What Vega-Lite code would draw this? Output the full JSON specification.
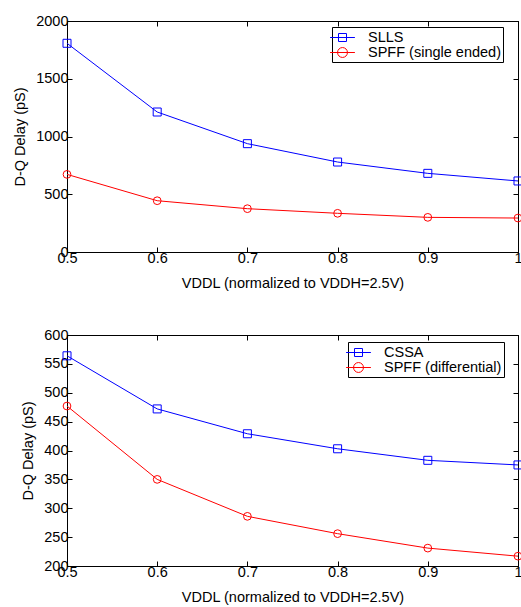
{
  "$schema": "https://vega.github.io/schema/vega-lite/v6.json",
  "background": "white",
  "padding": {"left": 12, "top": 12, "right": 0, "bottom": 0},
  "spacing": 35,
  "config": {
    "font": "Liberation Sans",
    "view": {"stroke": "black", "strokeWidth": 1},
    "axis": {
      "labelFont": "Liberation Sans", "labelFontSize": 14.5, "labelColor": "black",
      "titleFont": "Liberation Sans", "titleFontSize": 14.5, "titleFontWeight": "normal", "titleColor": "black",
      "domainColor": "black", "tickColor": "black", "tickSize": -5, "grid": false, "labelPadding": 4,
      "labelFlush": false, "labelOverlap": false
    },
    "legend": {
      "title": null, "orient": "none", "padding": 2,
      "strokeColor": "black", "fillColor": "white",
      "symbolSize": 256, "symbolStrokeWidth": 1, "symbolOffset": 0, "symbolOpacity": 1, "symbolFillColor": "transparent",
      "labelFont": "Liberation Sans", "labelFontSize": 14.5, "labelColor": "black",
      "labelOffset": 17, "rowPadding": 0,
      "labelExpr": "datum.label + '\u00a0\u00a0\u00a0'"
    }
  },
  "resolve": {"scale": {"color": "independent", "shape": "independent"}, "legend": {"color": "independent", "shape": "independent"}},
  "vconcat": [
    {
      "width": 451, "height": 231,
      "data": {"values": [
        {"vddl": 0.5, "delay": 1807, "series": "SLLS"},
        {"vddl": 0.6, "delay": 1212, "series": "SLLS"},
        {"vddl": 0.7, "delay": 938, "series": "SLLS"},
        {"vddl": 0.8, "delay": 779, "series": "SLLS"},
        {"vddl": 0.9, "delay": 681, "series": "SLLS"},
        {"vddl": 1.0, "delay": 615, "series": "SLLS"},
        {"vddl": 0.5, "delay": 672, "series": "SPFF (single ended)"},
        {"vddl": 0.6, "delay": 444, "series": "SPFF (single ended)"},
        {"vddl": 0.7, "delay": 375, "series": "SPFF (single ended)"},
        {"vddl": 0.8, "delay": 335, "series": "SPFF (single ended)"},
        {"vddl": 0.9, "delay": 300, "series": "SPFF (single ended)"},
        {"vddl": 1.0, "delay": 294, "series": "SPFF (single ended)"}
      ]},
      "resolve": {"axis": {"x": "independent", "y": "independent"}},
      "layer": [
        {
          "transform": [{"filter": "datum.series === 'SLLS'"}],
          "mark": {"type": "line", "strokeWidth": 1, "color": "#0000ff"},
          "encoding": {
            "x": {"field": "vddl", "type": "quantitative", "scale": {"domain": [0.5, 1], "nice": false, "zero": false},
                  "axis": {"values": [0.5, 0.6, 0.7, 0.8, 0.9, 1], "format": "~g", "title": "VDDL (normalized to VDDH=2.5V)", "titlePadding": 12}},
            "y": {"field": "delay", "type": "quantitative", "scale": {"domain": [0, 2000], "nice": false},
                  "axis": {"values": [0, 500, 1000, 1500, 2000], "format": "d", "title": "D-Q Delay (pS)", "titlePadding": 8}}
          }
        },
        {
          "transform": [{"filter": "datum.series === 'SLLS'"}],
          "mark": {"type": "point", "shape": "square", "filled": false, "strokeWidth": 1, "size": 64, "opacity": 1, "color": "#0000ff"},
          "encoding": {
            "x": {"field": "vddl", "type": "quantitative", "axis": {"orient": "top", "values": [0.5, 0.6, 0.7, 0.8, 0.9, 1], "labels": false, "title": null}},
            "y": {"field": "delay", "type": "quantitative", "axis": {"orient": "right", "values": [0, 500, 1000, 1500, 2000], "labels": false, "title": null}}
          }
        },
        {
          "transform": [{"filter": "datum.series !== 'SLLS'"}],
          "mark": {"type": "line", "strokeWidth": 1, "color": "#ff0000"},
          "encoding": {
            "x": {"field": "vddl", "type": "quantitative", "axis": null},
            "y": {"field": "delay", "type": "quantitative", "axis": null}
          }
        },
        {
          "transform": [{"filter": "datum.series !== 'SLLS'"}],
          "mark": {"type": "point", "shape": "circle", "filled": false, "strokeWidth": 1, "size": 60, "opacity": 1, "color": "#ff0000"},
          "encoding": {
            "x": {"field": "vddl", "type": "quantitative", "axis": null},
            "y": {"field": "delay", "type": "quantitative", "axis": null}
          }
        },
        {
          "mark": {"type": "point", "filled": false, "strokeWidth": 1, "opacity": 0},
          "encoding": {
            "x": {"field": "vddl", "type": "quantitative", "axis": null},
            "y": {"field": "delay", "type": "quantitative", "axis": null},
            "color": {"field": "series", "type": "nominal", "scale": {"domain": ["SLLS", "SPFF (single ended)"], "range": ["#0000ff", "#ff0000"]},
                      "legend": {"legendX": 265, "legendY": 6}},
            "shape": {"field": "series", "type": "nominal", "scale": {"domain": ["SLLS", "SPFF (single ended)"], "range": ["M-1.55,0H1.55M-0.5,-0.5H0.5V0.5H-0.5Z", "M-1.55,0H1.55M0.62,0A0.62,0.62,0,1,1,-0.62,0A0.62,0.62,0,1,1,0.62,0Z"]},
                      "legend": {"legendX": 265, "legendY": 6}}
          }
        }
      ]
    },
    {
      "width": 451, "height": 231,
      "data": {"values": [
        {"vddl": 0.5, "delay": 564, "series": "CSSA"},
        {"vddl": 0.6, "delay": 472, "series": "CSSA"},
        {"vddl": 0.7, "delay": 429, "series": "CSSA"},
        {"vddl": 0.8, "delay": 403, "series": "CSSA"},
        {"vddl": 0.9, "delay": 383, "series": "CSSA"},
        {"vddl": 1.0, "delay": 375, "series": "CSSA"},
        {"vddl": 0.5, "delay": 477, "series": "SPFF (differential)"},
        {"vddl": 0.6, "delay": 350, "series": "SPFF (differential)"},
        {"vddl": 0.7, "delay": 286, "series": "SPFF (differential)"},
        {"vddl": 0.8, "delay": 256, "series": "SPFF (differential)"},
        {"vddl": 0.9, "delay": 231, "series": "SPFF (differential)"},
        {"vddl": 1.0, "delay": 217, "series": "SPFF (differential)"}
      ]},
      "resolve": {"axis": {"x": "independent", "y": "independent"}},
      "layer": [
        {
          "transform": [{"filter": "datum.series === 'CSSA'"}],
          "mark": {"type": "line", "strokeWidth": 1, "color": "#0000ff"},
          "encoding": {
            "x": {"field": "vddl", "type": "quantitative", "scale": {"domain": [0.5, 1], "nice": false, "zero": false},
                  "axis": {"values": [0.5, 0.6, 0.7, 0.8, 0.9, 1], "format": "~g", "title": "VDDL (normalized to VDDH=2.5V)", "titlePadding": 12}},
            "y": {"field": "delay", "type": "quantitative", "scale": {"domain": [200, 600], "nice": false, "zero": false},
                  "axis": {"values": [200, 250, 300, 350, 400, 450, 500, 550, 600], "format": "d", "title": "D-Q Delay (pS)", "titlePadding": 8}}
          }
        },
        {
          "transform": [{"filter": "datum.series === 'CSSA'"}],
          "mark": {"type": "point", "shape": "square", "filled": false, "strokeWidth": 1, "size": 64, "opacity": 1, "color": "#0000ff"},
          "encoding": {
            "x": {"field": "vddl", "type": "quantitative", "axis": {"orient": "top", "values": [0.5, 0.6, 0.7, 0.8, 0.9, 1], "labels": false, "title": null}},
            "y": {"field": "delay", "type": "quantitative", "axis": {"orient": "right", "values": [200, 250, 300, 350, 400, 450, 500, 550, 600], "labels": false, "title": null}}
          }
        },
        {
          "transform": [{"filter": "datum.series !== 'CSSA'"}],
          "mark": {"type": "line", "strokeWidth": 1, "color": "#ff0000"},
          "encoding": {
            "x": {"field": "vddl", "type": "quantitative", "axis": null},
            "y": {"field": "delay", "type": "quantitative", "axis": null}
          }
        },
        {
          "transform": [{"filter": "datum.series !== 'CSSA'"}],
          "mark": {"type": "point", "shape": "circle", "filled": false, "strokeWidth": 1, "size": 60, "opacity": 1, "color": "#ff0000"},
          "encoding": {
            "x": {"field": "vddl", "type": "quantitative", "axis": null},
            "y": {"field": "delay", "type": "quantitative", "axis": null}
          }
        },
        {
          "mark": {"type": "point", "filled": false, "strokeWidth": 1, "opacity": 0},
          "encoding": {
            "x": {"field": "vddl", "type": "quantitative", "axis": null},
            "y": {"field": "delay", "type": "quantitative", "axis": null},
            "color": {"field": "series", "type": "nominal", "scale": {"domain": ["CSSA", "SPFF (differential)"], "range": ["#0000ff", "#ff0000"]},
                      "legend": {"legendX": 281, "legendY": 7}},
            "shape": {"field": "series", "type": "nominal", "scale": {"domain": ["CSSA", "SPFF (differential)"], "range": ["M-1.55,0H1.55M-0.5,-0.5H0.5V0.5H-0.5Z", "M-1.55,0H1.55M0.62,0A0.62,0.62,0,1,1,-0.62,0A0.62,0.62,0,1,1,0.62,0Z"]},
                      "legend": {"legendX": 281, "legendY": 7}}
          }
        }
      ]
    }
  ]
}
